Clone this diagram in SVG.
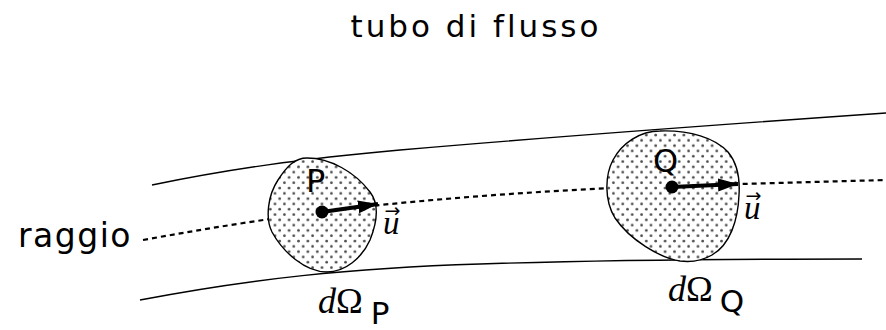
<svg xmlns="http://www.w3.org/2000/svg" width="886" height="330" viewBox="0 0 886 330">
<style>
.sans{font-family:"DejaVu Sans","Liberation Sans",sans-serif;fill:#000}
.ser{font-family:"Liberation Serif","DejaVu Serif",serif;fill:#000}
.it{font-style:italic}
.arr{font-family:"DejaVu Sans",sans-serif;font-size:19px;font-style:normal}
.tube{fill:none;stroke:#000;stroke-width:1.4}
.ray{fill:none;stroke:#000;stroke-width:2.2;stroke-dasharray:5 4}
.blob{fill:url(#dots);stroke:#000;stroke-width:1.4}
.vec{stroke:#000;stroke-width:4;fill:none;marker-end:url(#ah)}
</style>
<defs>
<pattern id="dots" patternUnits="userSpaceOnUse" width="9.4" height="10.6">
<rect width="9.4" height="10.6" fill="#fff"/>
<circle cx="2.4" cy="2.6" r="1.35" fill="#4a4a4a"/>
<circle cx="7.1" cy="7.9" r="1.35" fill="#4a4a4a"/>
</pattern>
<marker id="ah" markerUnits="userSpaceOnUse" markerWidth="22" markerHeight="14" refX="20" refY="6.5" orient="auto">
<path d="M0,0 L20,6.5 L0,13 Z" fill="#000"/>
</marker>
</defs>
<rect width="886" height="330" fill="#fff"/>
<g id="title"><text class="sans" x="476" y="37" font-size="31" letter-spacing="3" text-anchor="middle">tubo di flusso</text></g>
<g id="connectors">
<path class="tube" d="M152,185 C230,169 300,159 400,150 C550,137 700,126 886,113"/>
<path class="tube" d="M140,300 C250,279 350,268 480,264 C600,260 700,259 862,259"/>
<path class="ray" d="M143,240 C220,226 290,215 380,205 C500,193 620,186 740,184 L886,180"/>
</g>
<g id="raggio"><text class="sans" x="18" y="247" font-size="33" letter-spacing="1.5">raggio</text></g>
<g id="blobP">
<path class="blob" d="M307,158 C330,158 355,172 370,192 C380,205 376,225 370,240 C362,258 345,272 327,272 C305,272 283,252 272,232 C265,218 268,195 278,180 C287,166 295,158 307,158 Z"/>
<text class="sans" x="306" y="192" font-size="32">P</text>
<line class="vec" x1="322" y1="212" x2="378" y2="204"/>
<circle cx="322" cy="212" r="6.5" fill="#000"/>
<text class="ser it" x="383" y="234" font-size="33">u<tspan class="arr" dx="-15" dy="-17">→</tspan></text>
</g>
<g id="blobQ">
<path class="blob" d="M660,131 C690,130 715,138 728,152 C738,164 740,180 739,195 C738,220 730,245 712,255 C700,262 688,262 680,261 C660,258 630,240 615,218 C604,200 605,175 613,160 C622,143 640,131 660,131 Z"/>
<text class="sans" x="653" y="172" font-size="32">Q</text>
<line class="vec" x1="672" y1="187" x2="738" y2="184"/>
<circle cx="672" cy="187" r="6.5" fill="#000"/>
<text class="ser it" x="744" y="219" font-size="33">u<tspan class="arr" dx="-15" dy="-17">→</tspan></text>
</g>
<g id="labelP"><text x="318" y="313" font-size="36"><tspan class="ser it">d</tspan><tspan class="ser">Ω</tspan><tspan class="sans" font-size="31" dx="8" dy="11">P</tspan></text></g>
<g id="labelQ"><text x="668" y="301" font-size="36"><tspan class="ser it">d</tspan><tspan class="ser">Ω</tspan><tspan class="sans" font-size="31" dx="7" dy="11">Q</tspan></text></g>
</svg>
